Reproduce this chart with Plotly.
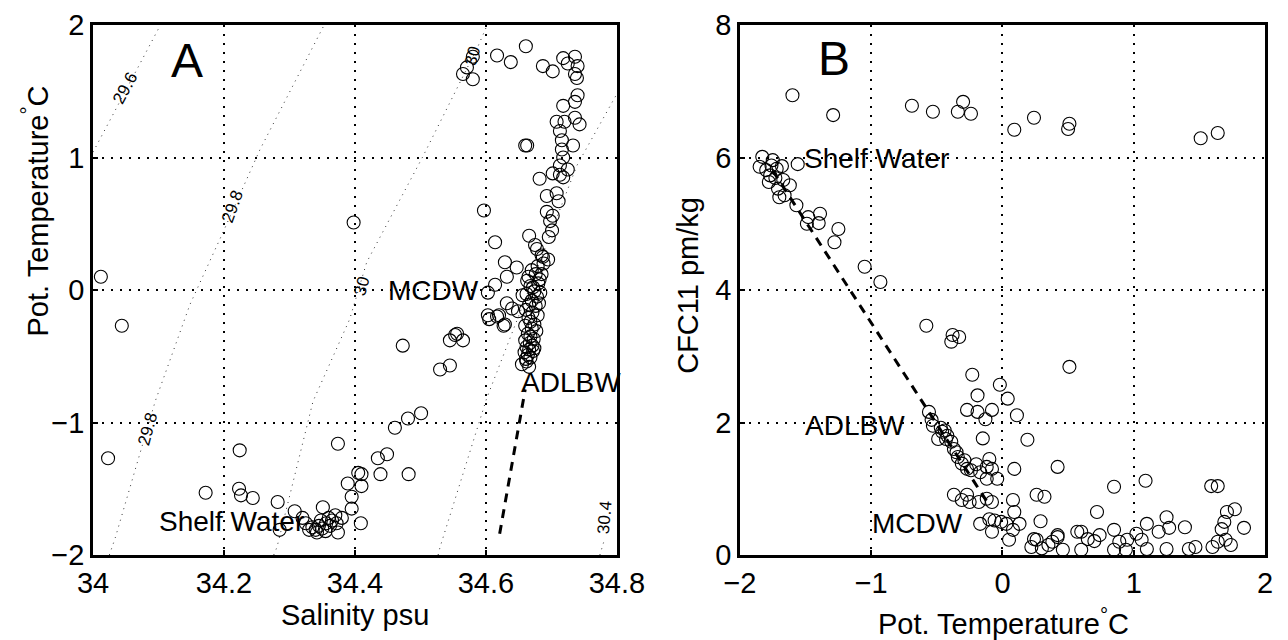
import plotly.graph_objects as go
from plotly.subplots import make_subplots

# ---- panel A : theta / S ----
sal = [34.565, 34.571, 34.580, 34.580, 34.617, 34.638, 34.661, 34.687, 34.702, 34.718, 34.725, 34.736,
       34.740, 34.736, 34.739, 34.740, 34.736, 34.718, 34.708, 34.720, 34.736, 34.743, 34.713, 34.716,
       34.733, 34.660, 34.663, 34.716, 34.718, 34.713, 34.725, 34.702, 34.713, 34.718, 34.682, 34.693,
       34.708, 34.711, 34.693, 34.702, 34.597, 34.701, 34.696, 34.666, 34.675, 34.685, 34.695, 34.614,
       34.698, 34.678, 34.687, 34.398,
       34.629, 34.647, 34.632, 34.614, 34.603, 34.663, 34.672, 34.682, 34.656, 34.632, 34.603, 34.640,
       34.620, 34.605, 34.629, 34.649, 34.617, 34.627,
       34.670, 34.676, 34.665, 34.680, 34.668, 34.674, 34.662, 34.678, 34.670, 34.666, 34.676, 34.661,
       34.671, 34.679, 34.665, 34.668, 34.674, 34.660, 34.670, 34.677, 34.664, 34.668, 34.673, 34.660,
       34.667, 34.671, 34.662, 34.666, 34.672, 34.659, 34.664, 34.668, 34.661, 34.655, 34.662, 34.683,
       34.681, 34.685, 34.679, 34.688, 34.674, 34.666,
       34.553, 34.545, 34.556, 34.565, 34.530, 34.545, 34.473, 34.501, 34.481, 34.461, 34.449, 34.435,
       34.439, 34.482, 34.410, 34.410, 34.409, 34.405, 34.389, 34.374, 34.395, 34.395, 34.374, 34.351,
       34.012, 34.044, 34.023, 34.172, 34.224, 34.223, 34.226, 34.244, 34.282, 34.308, 34.320, 34.285,
       34.325, 34.335, 34.340, 34.345, 34.350, 34.356, 34.360, 34.365, 34.370, 34.330, 34.342, 34.355,
       34.362, 34.372, 34.380, 34.348]
theta = [1.63, 1.68, 1.76, 1.59, 1.77, 1.72, 1.84, 1.69, 1.65, 1.75, 1.71, 1.76,
         1.69, 1.63, 1.60, 1.47, 1.42, 1.39, 1.27, 1.27, 1.30, 1.25, 1.20, 1.13,
         1.09, 1.09, 1.09, 1.06, 1.00, 0.94, 0.91, 0.88, 0.87, 0.85, 0.84, 0.71,
         0.73, 0.67, 0.59, 0.56, 0.60, 0.45, 0.40, 0.41, 0.34, 0.26, 0.23, 0.36,
         0.52, 0.31, 0.25, 0.51,
         0.21, 0.17, 0.10, 0.04, -0.02, 0.07, 0.02, 0.08, -0.04, -0.10, -0.19, -0.14,
         -0.19, -0.22, -0.26, -0.16, -0.20, -0.27,
         0.15, 0.12, 0.10, 0.05, 0.03, -0.01, -0.03, -0.05, -0.08, -0.11, -0.12, -0.15,
         -0.17, -0.19, -0.21, -0.24, -0.26, -0.27, -0.29, -0.31, -0.33, -0.35, -0.37, -0.38,
         -0.40, -0.42, -0.43, -0.45, -0.46, -0.47, -0.49, -0.51, -0.52, -0.56, -0.54, -0.02,
         -0.10, 0.12, 0.18, 0.20, -0.44, -0.58,
         -0.34, -0.38, -0.33, -0.38, -0.60, -0.57, -0.42, -0.93, -0.97, -1.04, -1.24, -1.27,
         -1.39, -1.39, -1.39, -1.48, -1.76, -1.38, -1.46, -1.16, -1.56, -1.65, -1.83, -1.64,
         0.10, -0.27, -1.27, -1.53, -1.21, -1.50, -1.55, -1.57, -1.60, -1.67, -1.72, -1.81,
         -1.76, -1.79, -1.81, -1.78, -1.80, -1.76, -1.72, -1.74, -1.70, -1.81, -1.83, -1.82,
         -1.78, -1.76, -1.72, -1.74]

# mixing line A
mix_a_s = [34.621, 34.660]
mix_a_t = [-1.84, -0.75]

# isopycnals (sigma levels)
iso = {
    "29.6": ([34.0, 34.103], [1.04, 2.0]),
    "29.8": ([34.025, 34.034, 34.095, 34.148, 34.198, 34.255, 34.353],
             [-2.0, -1.87, -0.84, -0.11, 0.43, 1.06, 2.0]),
    "30": ([34.276, 34.281, 34.336, 34.392, 34.418, 34.504, 34.588, 34.602],
           [-2.0, -1.94, -0.84, -0.22, 0.21, 1.01, 1.84, 2.0]),
    "30.2": ([34.527, 34.530, 34.601, 34.739, 34.792, 34.80],
             [-2.0, -1.94, -0.82, 0.94, 1.41, 1.48]),
    "30.4": ([34.774, 34.78], [-2.0, -1.9]),
}

# ---- panel B : CFC11 / theta ----
theta_b = [-1.60, -1.29, -0.69, -0.53, -0.34, -0.30, -0.24, 0.09, 0.24, 0.51, 0.50, 1.51, 1.64,
           -1.83, -1.75, -1.85, -1.80, -1.76, -1.72, -1.68, -1.77, -1.78, -1.73, -1.67, -1.62,
           -1.71, -1.70, -1.66, -1.56, -1.57, -1.48, -1.49, -1.39, -1.40, -1.25, -1.28, -1.05,
           -0.93, -0.58, -0.38, -0.33, -0.39,
           0.51, -0.23, -0.02, 0.04, -0.19, -0.27, -0.19, -0.08, -0.13, 0.11, 0.19, -0.15, 0.42, 0.09,
           -0.56, -0.54, -0.46, -0.44, -0.49, -0.43, -0.39, -0.37, -0.34, -0.29, -0.27, -0.20,
           -0.17, -0.12, -0.10, -0.12, -0.04, -0.08, -0.47, -0.42, -0.35, -0.31, -0.24, -0.53,
           -0.37, -0.31, -0.27, -0.25, -0.18, -0.12, -0.08, 0.08, 0.09, 0.26, 0.32, 0.29,
           -0.17, -0.10, -0.06, -0.01, -0.08, 0.03, 0.08, 0.13, 0.05, 0.22, 0.26, 0.38, 0.42,
           0.46, 0.57,
           0.85, 1.09, 1.59, 1.64, 0.72, 0.24, 0.42, 0.60, 0.65, 0.70, 0.74, 0.60, 0.85, 0.89,
           0.85, 0.94, 0.95, 1.02, 1.06, 1.10, 1.10, 1.19, 1.25, 1.27, 1.25, 1.39, 1.42, 1.47,
           1.60, 1.64, 1.70, 1.74, 1.67, 1.69, 1.71, 1.77, 1.84, 0.30, 0.35]
cfc11 = [6.94, 6.64, 6.78, 6.69, 6.69, 6.84, 6.66, 6.42, 6.60, 6.51, 6.43, 6.29, 6.37,
         6.01, 5.96, 5.86, 5.81, 5.88, 5.83, 5.87, 5.73, 5.63, 5.69, 5.66, 5.58,
         5.53, 5.40, 5.43, 5.90, 5.28, 5.10, 5.00, 5.15, 5.01, 4.92, 4.72, 4.35,
         4.12, 3.46, 3.32, 3.29, 3.22,
         2.84, 2.72, 2.57, 2.36, 2.41, 2.19, 2.16, 2.19, 2.05, 2.11, 1.74, 1.76, 1.33, 1.30,
         2.16, 2.04, 1.86, 1.88, 1.75, 1.75, 1.71, 1.60, 1.48, 1.43, 1.30, 1.37,
         1.25, 1.33, 1.45, 1.15, 1.15, 1.30, 1.92, 1.80, 1.55, 1.38, 1.28, 1.95,
         0.91, 0.83, 0.91, 0.80, 0.80, 0.85, 0.80, 0.83, 0.65, 0.91, 0.88, 0.51,
         0.47, 0.54, 0.52, 0.50, 0.35, 0.47, 0.38, 0.47, 0.23, 0.12, 0.23, 0.20, 0.30,
         0.08, 0.35,
         1.03, 1.12, 1.04, 1.04, 0.65, 0.24, 0.27, 0.35, 0.24, 0.21, 0.30, 0.08, 0.38, 0.20,
         0.08, 0.08, 0.23, 0.32, 0.23, 0.09, 0.47, 0.35, 0.57, 0.41, 0.09, 0.42, 0.09, 0.12,
         0.12, 0.20, 0.23, 0.15, 0.39, 0.50, 0.65, 0.69, 0.41, 0.10, 0.15]

mix_b_t = [-1.75, -0.10]
mix_b_c = [5.8, 0.75]

FONT = "Liberation Sans, Arial, Helvetica, sans-serif"

fig = make_subplots(rows=1, cols=2, horizontal_spacing=0.105)

for lvl, (s, t) in iso.items():
    fig.add_trace(go.Scatter(x=s, y=t, mode="lines", line=dict(color="#333", width=1, dash="1px,5px"),
                             showlegend=False, hoverinfo="skip"), row=1, col=1)

circ = dict(symbol="circle-open", size=13, color="black", line=dict(width=1.1, color="black"))
fig.add_trace(go.Scatter(x=sal, y=theta, mode="markers", marker=circ, showlegend=False), row=1, col=1)
fig.add_trace(go.Scatter(x=mix_a_s, y=mix_a_t, mode="lines",
                         line=dict(color="black", width=3, dash="9px,7px"), showlegend=False), row=1, col=1)

fig.add_trace(go.Scatter(x=theta_b, y=cfc11, mode="markers", marker=circ, showlegend=False), row=1, col=2)
fig.add_trace(go.Scatter(x=mix_b_t, y=mix_b_c, mode="lines",
                         line=dict(color="black", width=3, dash="9px,7px"), showlegend=False), row=1, col=2)

axis_style = dict(showline=True, linecolor="black", linewidth=2.5, mirror=True, automargin=False,
                  showgrid=True, gridcolor="black", gridwidth=1.5, griddash="2px,7px",
                  zeroline=False, ticks="inside", ticklen=5, tickwidth=2, tickcolor="black",
                  ticklabeloverflow="allow",
                  tickfont=dict(family=FONT, size=29, color="black"))

fig.update_xaxes(axis_style)
fig.update_yaxes(axis_style)

fig.update_xaxes(range=[34, 34.8], tickvals=[34, 34.2, 34.4, 34.6, 34.8],
                 ticktext=["34", "34.2", "34.4", "34.6", "34.8"], domain=[0, 0.447], row=1, col=1)
fig.update_yaxes(range=[-2, 2], tickvals=[-2, -1, 0, 1, 2], row=1, col=1)
fig.update_xaxes(range=[-2, 2], tickvals=[-2, -1, 0, 1, 2], domain=[0.552, 1], row=1, col=2)
fig.update_yaxes(range=[0, 8], tickvals=[0, 2, 4, 6, 8], row=1, col=2)

big = dict(family=FONT, size=48, color="black")
lab = dict(family=FONT, size=28, color="black")
small = dict(family=FONT, size=17, color="black")
ttl = dict(family=FONT, size=29, color="black")

notes = [
    ("x", "y", 34.144, 1.73, "A", big, 0),
    ("x", "y", 34.52, 0.0, "MCDW", lab, 0),
    ("x", "y", 34.73, -0.7, "ADLBW", lab, 0),
    ("x", "y", 34.212, -1.75, "Shelf Water", lab, 0),
    ("x", "y", 34.049, 1.52, "29.6", small, -62),
    ("x", "y", 34.213, 0.63, "29.8", small, -70),
    ("x", "y", 34.083, -1.05, "29.8", small, -75),
    ("x", "y", 34.41, 0.03, "30", small, -75),
    ("x", "y", 34.58, 1.77, "30", small, -75),
    ("x", "y", 34.782, -1.72, "30.4", small, -85),
    ("x2", "y2", -1.285, 7.5, "B", big, 0),
    ("x2", "y2", -0.96, 5.98, "Shelf Water", lab, 0),
    ("x2", "y2", -1.12, 1.96, "ADLBW", lab, 0),
    ("x2", "y2", -0.65, 0.48, "MCDW", lab, 0),
]
for xr, yr, x, y, txt, f, ang in notes:
    fig.add_annotation(xref=xr, yref=yr, x=x, y=y, text=txt, font=f, textangle=ang,
                       showarrow=False)

# axis titles placed in paper coordinates (plot area 93..1265 x 25..555 px of the page)
titles = [
    (0.2235, -0.113, "Salinity psu", 0),
    (-0.0495, 0.65, "Pot. Temperature<sup>°</sup>C", -90),
    (0.5077, 0.508, "CFC11 pm/kg", -90),
    (0.7765, -0.127, "Pot. Temperature<sup>°</sup>C", 0),
]
for x, y, txt, ang in titles:
    fig.add_annotation(xref="paper", yref="paper", x=x, y=y, text=txt, font=ttl, textangle=ang,
                       showarrow=False, xanchor="center", yanchor="middle")

# the page body adds an 8px margin, so the figure is 8px smaller than the window
fig.update_layout(width=1280, height=632, plot_bgcolor="white", paper_bgcolor="white",
                  margin=dict(l=85, r=23, t=17, b=85), font=dict(family=FONT, color="black"))

fig.write_html("out.html")
